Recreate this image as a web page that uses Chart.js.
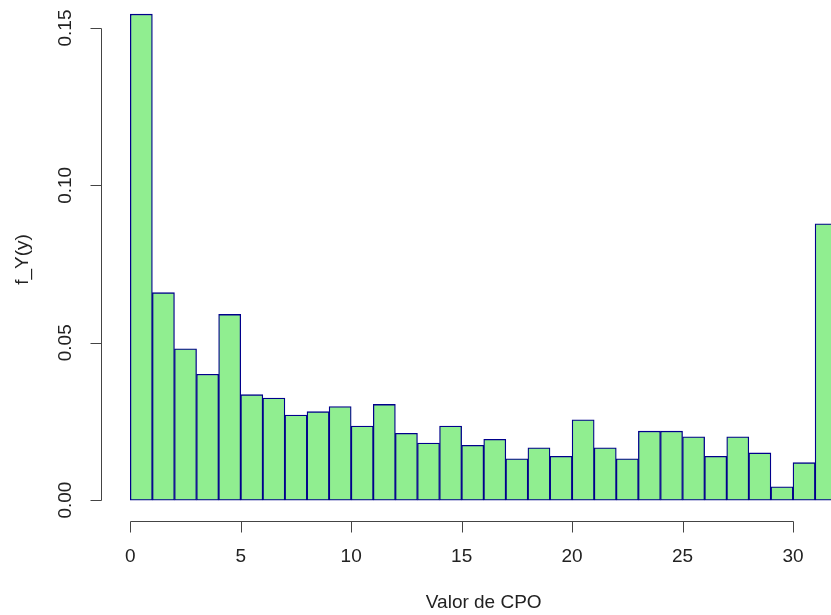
<!DOCTYPE html>
<html>
<head>
<meta charset="utf-8">
<title>Valor de CPO</title>
<script src="https://cdn.jsdelivr.net/npm/chart.js@4"></script>
<style>
  html, body { margin: 0; padding: 0; background: #fff; }
  canvas { display: block; }
</style>
</head>
<body>
<canvas id="hist" width="831" height="615"></canvas>
<script>
// histogram bins (left edge of each unit-wide bin) and density per bin
const binLeft = [0, 1, 2, 3, 4, 5, 6, 7, 8, 9, 10, 11, 12, 13, 14, 15,
                 16, 17, 18, 19, 20, 21, 22, 23, 24, 25, 26, 27, 28, 29, 30, 31];
const density = [0.1544, 0.0659, 0.0481, 0.0400, 0.0590, 0.0335, 0.0324, 0.0270,
                 0.0281, 0.0297, 0.0235, 0.0304, 0.0212, 0.0181, 0.0235, 0.0174,
                 0.0193, 0.0131, 0.0166, 0.0139, 0.0255, 0.0166, 0.0131, 0.0219,
                 0.0219, 0.0201, 0.0139, 0.0201, 0.0150, 0.0042, 0.0119, 0.0878];
const binWidth = 1;

const xTicks = [0, 5, 10, 15, 20, 25, 30];
const yTicks = [0, 0.05, 0.10, 0.15];
const yTickLabels = ['0.00', '0.05', '0.10', '0.15'];
const xTitle = 'Valor de CPO';
const yTitle = 'f_Y(y)';

const FONT = '19px "Liberation Sans", Arial, sans-serif';
const AXIS_COLOR = '#444';
const TEXT_COLOR = '#222';

// base-graphics style axes: line only spans first..last tick, ticks point outward
const baseAxes = {
    id: 'baseAxes',
    afterDraw(chart) {
        const { ctx, chartArea, scales: { x, y } } = chart;
        ctx.save();
        ctx.strokeStyle = AXIS_COLOR;
        ctx.lineWidth = 1;
        ctx.fillStyle = TEXT_COLOR;
        ctx.font = FONT;

        // x axis
        const axisY = Math.round(chartArea.bottom + 2) + 0.5;
        const x0 = Math.round(x.getPixelForValue(xTicks[0])) + 0.5;
        const x1 = Math.round(x.getPixelForValue(xTicks[xTicks.length - 1])) + 0.5;
        ctx.beginPath();
        ctx.moveTo(x0, axisY);
        ctx.lineTo(x1, axisY);
        xTicks.forEach((t) => {
            const px = Math.round(x.getPixelForValue(t)) + 0.5;
            ctx.moveTo(px, axisY);
            ctx.lineTo(px, axisY + 11);
        });
        ctx.stroke();
        ctx.textAlign = 'center';
        ctx.textBaseline = 'middle';
        xTicks.forEach((t) => {
            ctx.fillText(String(t), x.getPixelForValue(t), axisY + 35);
        });
        // title sits under the middle of the full bin range
        const lastEdge = binLeft[binLeft.length - 1] + binWidth;
        ctx.fillText(xTitle, x.getPixelForValue(lastEdge / 2), 603);

        // y axis
        const axisX = Math.round(chartArea.left - 1) + 0.5;
        const yb = Math.round(y.getPixelForValue(yTicks[0])) + 0.5;
        const yt = Math.round(y.getPixelForValue(yTicks[yTicks.length - 1])) + 0.5;
        ctx.beginPath();
        ctx.moveTo(axisX, yb);
        ctx.lineTo(axisX, yt);
        yTicks.forEach((t) => {
            const py = Math.round(y.getPixelForValue(t)) + 0.5;
            ctx.moveTo(axisX, py);
            ctx.lineTo(axisX - 11, py);
        });
        ctx.stroke();
        yTicks.forEach((t, i) => {
            ctx.save();
            ctx.translate(66, y.getPixelForValue(t));
            ctx.rotate(-Math.PI / 2);
            ctx.fillText(yTickLabels[i], 0, 0);
            ctx.restore();
        });
        ctx.save();
        ctx.translate(23, (chartArea.top + chartArea.bottom) / 2);
        ctx.rotate(-Math.PI / 2);
        ctx.fillText(yTitle, 0, 0);
        ctx.restore();

        ctx.restore();
    },
};

new Chart(document.getElementById('hist').getContext('2d'), {
    type: 'bar',
    data: {
        datasets: [{
            data: binLeft.map((b, i) => ({ x: b + binWidth / 2, y: density[i] })),
            backgroundColor: '#90EE90',
            borderColor: '#00008B',
            borderWidth: 1.3,
            borderSkipped: false,
            barPercentage: 1,
            categoryPercentage: 1,
        }],
    },
    options: {
        responsive: false,
        animation: false,
        layout: { padding: { left: 102, right: 0, top: 0, bottom: 96 } },
        scales: {
            x: { type: 'linear', min: -1.28, max: 31.72, offset: false, display: false },
            y: { min: -0.006, max: 0.1589, display: false },
        },
        plugins: {
            legend: { display: false },
            tooltip: { enabled: false },
        },
    },
    plugins: [baseAxes],
});
</script>
</body>
</html>
